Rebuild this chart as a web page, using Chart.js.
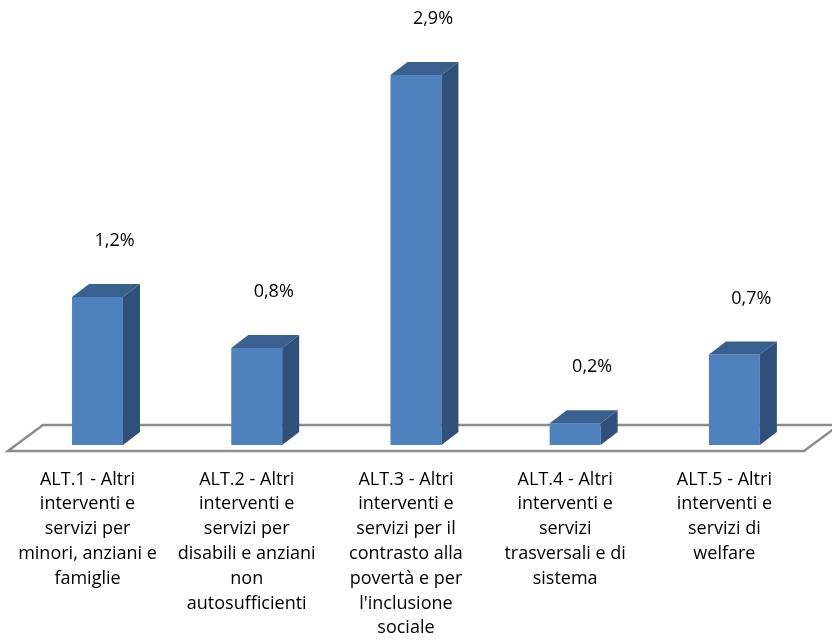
<!DOCTYPE html>
<html>
<head>
<meta charset="utf-8">
<script src="https://cdn.jsdelivr.net/npm/chart.js@4"></script>
<style>
  html, body { margin: 0; padding: 0; background: #fff; }
  #wrap { width: 832px; height: 644px; }
</style>
</head>
<body>
<div id="wrap"><canvas id="chart"></canvas></div>
<script>
const categories = [
  ['ALT.1 - Altri', 'interventi e', 'servizi per', 'minori, anziani e', 'famiglie'],
  ['ALT.2 - Altri', 'interventi e', 'servizi per', 'disabili e anziani', 'non', 'autosufficienti'],
  ['ALT.3 - Altri', 'interventi e', 'servizi per il', 'contrasto alla', 'povertà e per', "l'inclusione", 'sociale'],
  ['ALT.4 - Altri', 'interventi e', 'servizi', 'trasversali e di', 'sistema'],
  ['ALT.5 - Altri', 'interventi e', 'servizi di', 'welfare']
];
const shares = [1.16, 0.76, 2.9, 0.17, 0.71];

const FONT = '"Open Sans", "Liberation Sans", sans-serif';

// fake 3D: floor, top + side faces, value labels
const box3d = {
  id: 'box3d',
  beforeDatasetsDraw(chart) {
    const ctx = chart.ctx;
    const x = chart.scales.x;
    const base = chart.scales.y.getPixelForValue(0);
    const fx0 = x.left - 10, fx1 = x.right - 10, fy = base + 6;
    ctx.save();
    ctx.strokeStyle = '#8c8c8c';
    ctx.lineWidth = 2.5;
    ctx.beginPath();
    ctx.moveTo(fx0 + 35, fy - 26);
    ctx.lineTo(fx1 + 35, fy - 26);
    ctx.lineTo(fx1, fy);
    ctx.lineTo(fx0, fy);
    ctx.closePath();
    ctx.stroke();
    ctx.restore();
  },
  afterDatasetsDraw(chart) {
    const ctx = chart.ctx;
    const base = chart.scales.y.getPixelForValue(0);
    const dx = 17, dy = -13;
    ctx.save();
    chart.getDatasetMeta(0).data.forEach((bar, i) => {
      const l = bar.x - bar.width / 2, r = bar.x + bar.width / 2, t = bar.y;
      ctx.fillStyle = '#3a6090';
      ctx.beginPath();
      ctx.moveTo(l, t); ctx.lineTo(r, t); ctx.lineTo(r + dx, t + dy); ctx.lineTo(l + dx, t + dy);
      ctx.closePath(); ctx.fill();
      ctx.fillStyle = '#2f5079';
      ctx.beginPath();
      ctx.moveTo(r, t); ctx.lineTo(r, base); ctx.lineTo(r + dx, base + dy); ctx.lineTo(r + dx, t + dy);
      ctx.closePath(); ctx.fill();
      ctx.fillStyle = '#000';
      ctx.font = '18px ' + FONT;
      ctx.textAlign = 'center';
      ctx.textBaseline = 'middle';
      ctx.fillText(shares[i].toFixed(1).replace('.', ',') + '%', bar.x + dx, t - 56);
    });
    ctx.restore();
  }
};

new Chart(document.getElementById('chart'), {
  type: 'bar',
  data: {
    labels: categories,
    datasets: [{
      data: shares,
      backgroundColor: '#4f81bd',
      borderWidth: 0,
      barPercentage: 0.32,
      categoryPercentage: 1
    }]
  },
  options: {
    responsive: true,
    maintainAspectRatio: false,
    animation: false,
    layout: { padding: { top: 36.7, left: 17.9, right: 18, bottom: 0 } },
    plugins: { legend: { display: false }, tooltip: { enabled: false } },
    scales: {
      x: {
        grid: { display: false, drawTicks: false },
        border: { display: false },
        ticks: {
          color: '#000',
          padding: 22,
          labelOffset: -10,
          maxRotation: 0,
          autoSkip: false,
          font: { family: FONT, size: 18, lineHeight: 24.8 / 18 }
        },
        afterFit(scale) { scale.height = 199; }
      },
      y: {
        display: false,
        min: 0,
        max: 3.2
      }
    }
  },
  plugins: [box3d]
});
</script>
</body>
</html>
